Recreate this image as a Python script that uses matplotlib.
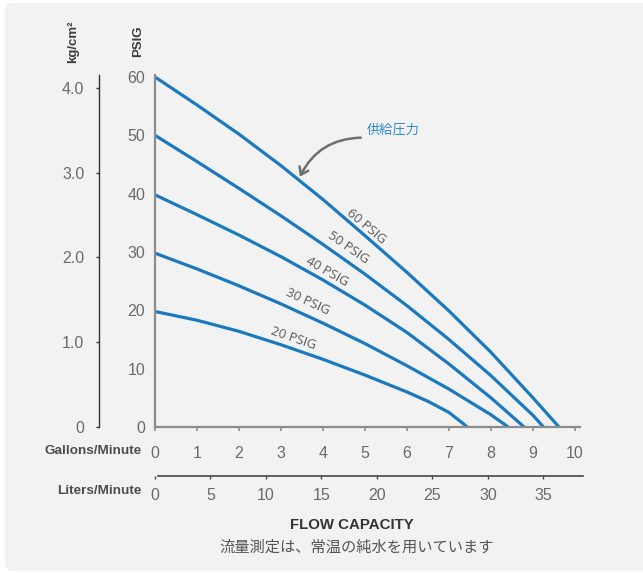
import matplotlib
matplotlib.use('Agg')
import matplotlib.pyplot as plt
from matplotlib.patches import FancyBboxPatch

# values
gpm_ticks = [0, 1, 2, 3, 4, 5, 6, 7, 8, 9, 10]
lpm_ticks = [0, 5, 10, 15, 20, 25, 30, 35]
psig_ticks = [0, 10, 20, 30, 40, 50, 60]
kg_ticks = [0, 1, 2, 3, 4]
kg_labels = ['0', '1.0', '2.0', '3.0', '4.0']

# flow (gal/min) vs pressure (psig) for each supply pressure
gpm_60 = [0, 1, 2, 3, 4, 5, 6, 7, 8, 9, 9.62]
psi_60 = [60, 55.2, 50.2, 44.8, 39.0, 32.8, 26.5, 19.9, 12.8, 5.0, 0]
gpm_50 = [0, 1, 2, 3, 4, 5, 6, 7, 8, 9, 9.25]
psi_50 = [50, 45.5, 40.9, 36.2, 31.3, 26.2, 20.8, 15.0, 8.8, 2.0, 0]
gpm_40 = [0, 1, 2, 3, 4, 5, 6, 7, 8, 8.79]
psi_40 = [39.8, 36.4, 32.9, 29.2, 25.2, 20.9, 16.2, 10.8, 5.0, 0]
gpm_30 = [0, 1, 2, 3, 4, 5, 6, 7, 8, 8.41]
psi_30 = [29.8, 27.1, 24.2, 21.1, 17.8, 14.3, 10.5, 6.5, 2.1, 0]
gpm_20 = [0, 1, 2, 3, 4, 5, 6, 6.5, 7, 7.44]
psi_20 = [19.8, 18.3, 16.4, 14.1, 11.6, 8.9, 6.0, 4.4, 2.5, 0]

LPM_PER_GPM = 3.785

W, H = 643, 573
BLUE = '#1b79c0'
AXIS_GRAY = '#8c8c8c'
NUM_FONT = 'Liberation Sans'
NUM_COLOR = '#6a6a6a'
JP_FONT = ['Noto Sans CJK JP', 'DejaVu Sans']


def px_rect(l, t, r, b):
    return [l / W, 1 - b / H, (r - l) / W, (b - t) / H]


def ftext(x, y, s, **kw):
    return fig.text(x / W, 1 - y / H, s, **kw)


fig = plt.figure(figsize=(W / 100, H / 100), dpi=100)
fig.patch.set_facecolor('white')
panel = FancyBboxPatch((5, 2), 700, 568, boxstyle='round,pad=0,rounding_size=8',
                       transform=None, facecolor='#f2f2f2', edgecolor='none', zorder=-10)
fig.patches.append(panel)

# main chart
ax = fig.add_axes(px_rect(155, 75, 580, 427))
ax.set_facecolor('none')
ax.set_xlim(0, 10.12)
ax.set_ylim(0, 60.34)
for s in ['top', 'right']:
    ax.spines[s].set_visible(False)
for s in ['left', 'bottom']:
    ax.spines[s].set_color(AXIS_GRAY)
    ax.spines[s].set_linewidth(1.6)

curves = [(gpm_60, psi_60), (gpm_50, psi_50), (gpm_40, psi_40),
          (gpm_30, psi_30), (gpm_20, psi_20)]
for g, p in curves:
    ax.plot(g, p, color=BLUE, lw=2.3, solid_capstyle='butt',
            solid_joinstyle='round', clip_on=False)

ax.set_xticks(gpm_ticks)
ax.set_xticklabels([str(v) for v in gpm_ticks], family=NUM_FONT, fontsize=11.5, color=NUM_COLOR)
ax.tick_params(axis='x', direction='out', length=3, width=1.2, color=AXIS_GRAY, pad=11)
ax.set_yticks(psig_ticks)
ax.set_yticklabels([str(v) for v in psig_ticks], family=NUM_FONT, fontsize=11.5, color=NUM_COLOR)
ax.tick_params(axis='y', length=0, pad=7)
ax.set_yticks([0], minor=True)
ax.tick_params(axis='y', which='minor', length=3, width=1.2, color=AXIS_GRAY)

# curve labels
labels = [('60 PSIG', 5.04, 34.4, -40), ('50 PSIG', 4.60, 30.8, -35),
          ('40 PSIG', 4.09, 26.6, -30), ('30 PSIG', 3.63, 21.5, -25),
          ('20 PSIG', 3.29, 15.2, -19)]
for s, x, y, rot in labels:
    ax.text(x, y, s, rotation=rot, ha='center', va='center', fontsize=9.5,
            family='Open Sans', color='#5a5a5a', rotation_mode='anchor')

# supply pressure callout
ax.annotate('', xy=(3.45, 42.9), xytext=(4.90, 49.6),
            arrowprops=dict(arrowstyle='->,head_length=0.5,head_width=0.35', color='#6e6e6e',
                            lw=1.8, connectionstyle='arc3,rad=0.3', shrinkA=0, shrinkB=0))
ax.text(5.05, 50.9, '供給圧力', family=JP_FONT, fontsize=9.5, color='#2b8bd0',
        ha='left', va='center')

# kg/cm2 scale
axk = fig.add_axes(px_rect(99, 75, 100, 427))
axk.set_facecolor('none')
axk.set_ylim(0, 4.153)
axk.set_xticks([])
for s in ['top', 'right', 'bottom']:
    axk.spines[s].set_visible(False)
axk.spines['left'].set_color('#333333')
axk.spines['left'].set_linewidth(1.0)
axk.set_yticks(kg_ticks)
axk.set_yticklabels(kg_labels, family=NUM_FONT, fontsize=11.5, color=NUM_COLOR)
axk.tick_params(axis='y', length=2.5, width=1.0, color='#333333', pad=8)

# liters scale
axl = fig.add_axes(px_rect(155, 470, 580, 476))
axl.set_facecolor('none')
axl.set_xlim(0, 10.12)
axl.set_yticks([])
for s in ['top', 'right', 'left']:
    axl.spines[s].set_visible(False)
axl.spines['bottom'].set_color('#444444')
axl.spines['bottom'].set_linewidth(1.2)
axl.spines['bottom'].set_bounds(0.07, 10.2)
axl.set_xticks([v / LPM_PER_GPM for v in lpm_ticks])
axl.set_xticklabels([str(v) for v in lpm_ticks], family=NUM_FONT, fontsize=11.5, color=NUM_COLOR)
axl.tick_params(axis='x', direction='out', length=2.5, width=1.0, color='#444444', pad=6)

# axis titles
BOLD = dict(fontweight='bold', family='Liberation Sans')
ftext(73, 42, 'kg/cm²', rotation=90, ha='center', va='center', fontsize=9.5,
      color='#3d3d3d', **BOLD)
ftext(138, 41, 'PSIG', rotation=90, ha='center', va='center', fontsize=9.5,
      color='#3d3d3d', **BOLD)
ftext(142, 451, 'Gallons/Minute', ha='right', va='center', fontsize=9.7,
      color='#4d4d4d', **BOLD)
ftext(141, 491, 'Liters/Minute', ha='right', va='center', fontsize=9.7,
      color='#4d4d4d', **BOLD)
ftext(352, 525, 'FLOW CAPACITY', ha='center', va='center', fontsize=10.8,
      color='#333333', **BOLD)
ftext(357, 547, '流量測定は、常温の純水を用いています', ha='center', va='center',
      fontsize=11, family=JP_FONT, color='#555555')

fig.savefig('out.png', dpi=100)
